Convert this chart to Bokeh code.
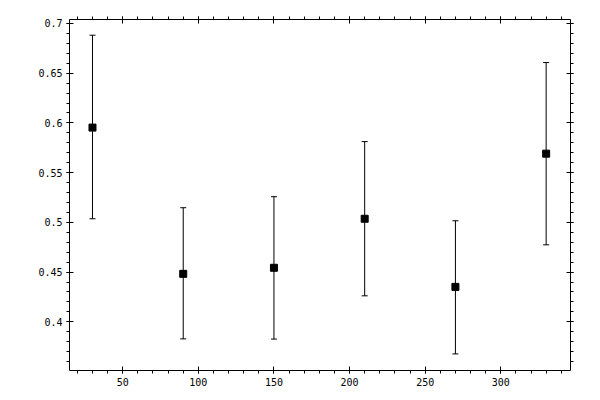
from bokeh.plotting import figure
from bokeh.models import (ColumnDataSource, Whisker, TeeHead, LinearAxis, FixedTicker)
from bokeh.embed import file_html
from bokeh.resources import INLINE
import numpy as np

# Data
x_vals = [30, 90, 150, 210, 270, 330]
y_vals = [0.5953, 0.4482, 0.4543, 0.5036, 0.4351, 0.5691]
y_upper = [0.6882, 0.5147, 0.5258, 0.5812, 0.5016, 0.6607]
y_lower = [0.5036, 0.3828, 0.3826, 0.4261, 0.3677, 0.4774]

x_ticks = [50, 100, 150, 200, 250, 300]
x_tick_labels = ["50", "100", "150", "200", "250", "300"]
y_ticks = [0.4, 0.45, 0.5, 0.55, 0.6, 0.65, 0.7]
y_tick_labels = ["0.4", "0.45", "0.5", "0.55", "0.6", "0.65", "0.7"]

source = ColumnDataSource(dict(x=x_vals, y=y_vals, upper=y_upper, lower=y_lower))

p = figure(width=592, height=392, x_range=(14.8, 346.1), y_range=(0.351, 0.704),
           output_backend="svg", toolbar_location=None, x_axis_location=None,
           y_axis_location=None, min_border_left=69, min_border_right=22,
           min_border_top=19, min_border_bottom=22)
p.xgrid.visible = False
p.ygrid.visible = False
p.outline_line_color = None
p.background_fill_color = "white"
p.border_fill_color = "white"

x_minor = [float(v) for v in np.arange(20, 341, 10)]
y_minor = [float(v) for v in np.round(np.arange(0.36, 0.705, 0.01), 2)]

font = "DejaVu Sans Mono"

def make_axis(ticks, minor, labels, show_labels):
    ax = LinearAxis(ticker=FixedTicker(ticks=ticks, minor_ticks=minor))
    ax.axis_line_color = "black"
    ax.axis_line_width = 1
    ax.major_tick_in = 4
    ax.major_tick_out = 3
    ax.minor_tick_in = 0
    ax.minor_tick_out = 3
    ax.major_tick_line_color = "black"
    ax.minor_tick_line_color = "black"
    ax.major_label_text_font = font
    ax.major_label_text_font_size = "10px"
    ax.major_label_text_color = "black"
    ax.major_label_standoff = 4
    if show_labels:
        ax.major_label_overrides = {t: l for t, l in zip(ticks, labels)}
    else:
        ax.major_label_overrides = {t: "" for t in ticks}
        ax.major_label_standoff = 0
    return ax

p.add_layout(make_axis(x_ticks, x_minor, x_tick_labels, True), "below")
p.add_layout(make_axis(x_ticks, x_minor, x_tick_labels, False), "above")
p.add_layout(make_axis(y_ticks, y_minor, y_tick_labels, True), "left")
p.add_layout(make_axis(y_ticks, y_minor, y_tick_labels, False), "right")

w = Whisker(source=source, base="x", upper="upper", lower="lower",
            line_color="black", line_width=1,
            upper_head=TeeHead(size=6, line_color="black", line_width=1),
            lower_head=TeeHead(size=6, line_color="black", line_width=1))
p.add_layout(w)

p.scatter("x", "y", source=source, marker="square", size=7,
          fill_color="black", line_color="black")

open("out.html", "w").write(file_html(p, INLINE))
